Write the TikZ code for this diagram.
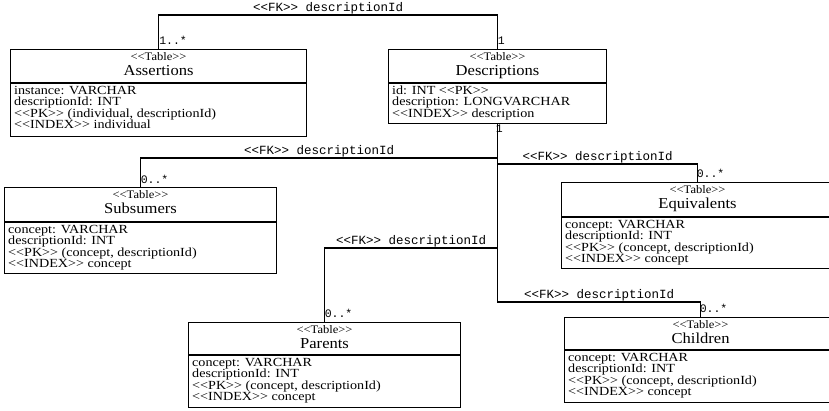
\documentclass[tikz,border=0pt]{standalone}
\usepackage{fontspec}
\newfontfamily\serifA{Liberation Serif}[FakeStretch=1.09]
\newfontfamily\serifB{Liberation Serif}[FakeStretch=1.14]
\newfontfamily\monoA{Liberation Mono}
\usetikzlibrary{calc}
\tikzset{
  tbox/.style={draw, line width=1.1pt, fill=white, inner sep=0pt, anchor=north west},
  divl/.style={line width=1.1pt},
  conn/.style={line width=1.1pt},
  stereo/.style={font=\serifA\fontsize{11.5}{12}\selectfont, inner sep=0pt, anchor=base},
  ttl/.style={font=\serifA\fontsize{15.2}{16}\selectfont, inner sep=0pt, anchor=base},
  attr/.style={font=\serifB\fontsize{12.4}{12}\selectfont, inner sep=0pt, anchor=base west,
    text height=8.2pt, text depth=2.8pt},
  fklabel/.style={font=\monoA\fontsize{12.5}{13}\selectfont, inner sep=0pt, anchor=base, yshift=4pt},
  mult/.style={font=\monoA\fontsize{11.5}{12}\selectfont, inner sep=0pt, anchor=base west},
}
% #1 name, #2 left, #3 top, #4 width, #5 title, #6 header height, #7 total height, #8 attribute lines
\newcommand\dbtable[8]{%
  \node[tbox, minimum width=#4pt, minimum height=#7pt] (#1) at (#2,#3) {};
  \draw[divl] ([yshift=-#6pt]#1.north west) -- ([yshift=-#6pt]#1.north east);
  \node[stereo] (#1-st) at ([yshift=-11.5pt]#1.north) {<<Table>>};
  \node[ttl] (#1-nm) at ([yshift=-26.5pt]#1.north) {#5};
  \foreach \t [count=\i] in {#8} {%
    \node[attr] (#1-a\i) at ([xshift=4pt, yshift={-(#6+11.5+(\i-1)*11.3)*1pt}]#1.north west) {\t};
  }%
}
\begin{document}
\begin{tikzpicture}[x=1pt, y=-1pt]
\useasboundingbox (0,0) rectangle (829,410);
\clip (0,0) rectangle (829,410);

\dbtable{asr}{10}{49}{296}{Assertions}{34}{87}{{instance: VARCHAR},{descriptionId: INT},{<<PK>> (individual, descriptionId)},{<<INDEX>> individual}}
\dbtable{dsc}{388}{49}{218}{Descriptions}{34}{74}{{id: INT <<PK>>},{description: LONGVARCHAR},{<<INDEX>> description}}
\dbtable{sub}{4}{187}{272}{Subsumers}{35}{86}{{concept: VARCHAR},{descriptionId: INT},{<<PK>> (concept, descriptionId)},{<<INDEX>> concept}}
\dbtable{eqv}{561}{182}{272}{Equivalents}{35}{86}{{concept: VARCHAR},{descriptionId: INT},{<<PK>> (concept, descriptionId)},{<<INDEX>> concept}}
\dbtable{par}{188}{322}{272}{Parents}{33}{85}{{concept: VARCHAR},{descriptionId: INT},{<<PK>> (concept, descriptionId)},{<<INDEX>> concept}}
\dbtable{chd}{564}{317}{272}{Children}{33}{85}{{concept: VARCHAR},{descriptionId: INT},{<<PK>> (concept, descriptionId)},{<<INDEX>> concept}}

% junction points on the trunk below Descriptions
\coordinate (jsub) at ($(dsc.south |- sub.north)+(0,-29)$);
\coordinate (jeqv) at ($(dsc.south |- eqv.north)+(0,-18)$);
\coordinate (jpar) at ($(dsc.south |- par.north)+(0,-74)$);
\coordinate (jchd) at ($(dsc.south |- chd.north)+(0,-15)$);

% connectors
\draw[conn] (asr.north) -- ++(0,-34) -| (dsc.north)
  node[pos=0.25, fklabel] {<<FK>> descriptionId};
\draw[conn] (dsc.south) -- (jchd) -| (chd.north)
  node[pos=0.25, fklabel] {<<FK>> descriptionId};
\draw[conn] (jsub) -| (sub.north)
  node[pos=0.25, fklabel] {<<FK>> descriptionId};
\draw[conn] (jeqv) -| (eqv.north)
  node[pos=0.25, fklabel] {<<FK>> descriptionId};
\draw[conn] (jpar) -| (par.north)
  node[pos=0.25, fklabel] {<<FK>> descriptionId};

% multiplicities
\node[mult] (m1) at ($(asr.north)+(0.5,-5)$) {1..*};
\node[mult] (m2) at ($(dsc.north)+(0,-5)$) {1};
\node[mult] (m3) at ($(dsc.south)+(-2,8)$) {1};
\node[mult] (m4) at ($(sub.north)+(0,-4)$) {0..*};
\node[mult] (m5) at ($(eqv.north)+(-1,-5)$) {0..*};
\node[mult] (m6) at ($(par.north)+(0,-5)$) {0..*};
\node[mult] (m7) at ($(chd.north)+(-1,-5)$) {0..*};
\end{tikzpicture}
\end{document}
